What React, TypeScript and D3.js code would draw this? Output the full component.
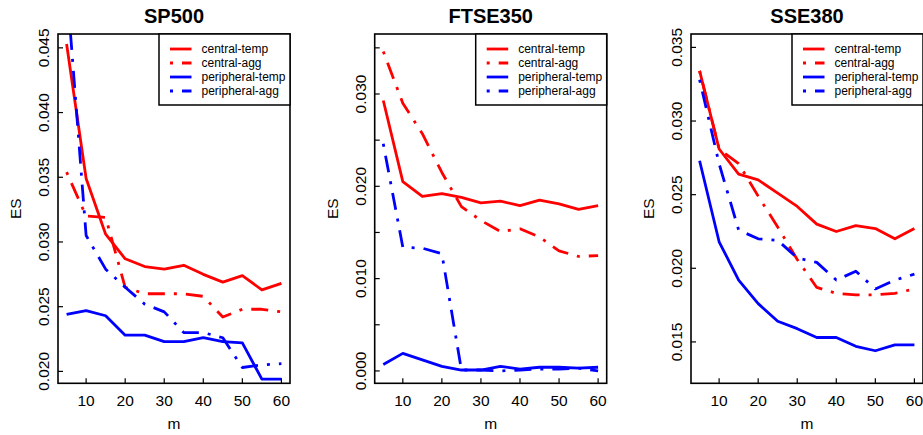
import React from 'react';
import * as d3 from 'd3';

// window length m
const mValues = [5, 10, 15, 20, 25, 30, 35, 40, 45, 50, 55, 60];
const xTicks = [10, 20, 30, 40, 50, 60];

const seriesNames = ['central-temp', 'central-agg', 'peripheral-temp', 'peripheral-agg'];
const seriesColors = ['#ff0000', '#ff0000', '#0000ff', '#0000ff'];
const seriesDash = [null, '3,9,17,9', null, '3,9,17,9'];

// SP500
const spCentralTemp = [0.0453, 0.0349, 0.0306, 0.0287, 0.0281, 0.0279, 0.0282, 0.0275, 0.0269, 0.0274, 0.0263, 0.0268];
const spCentralAgg = [0.0354, 0.0320, 0.0319, 0.0265, 0.0260, 0.0260, 0.0260, 0.0258, 0.0242, 0.0248, 0.0248, 0.0246];
const spPeriphTemp = [0.0244, 0.0247, 0.0243, 0.0228, 0.0228, 0.0223, 0.0223, 0.0226, 0.0223, 0.0222, 0.0194, 0.0194];
const spPeriphAgg = [0.0500, 0.0305, 0.0279, 0.0265, 0.0252, 0.0246, 0.0230, 0.0230, 0.0226, 0.0203, 0.0205, 0.0206];

// FTSE350
const ftCentralTemp = [0.0293, 0.0205, 0.0189, 0.0192, 0.0188, 0.0182, 0.0184, 0.0179, 0.0185, 0.0181, 0.0175, 0.0179];
const ftCentralAgg = [0.0346, 0.0290, 0.0257, 0.0215, 0.0178, 0.0163, 0.0151, 0.0154, 0.0145, 0.0130, 0.0124, 0.0125];
const ftPeriphTemp = [0.0007, 0.0019, 0.0012, 0.0005, 0.0001, 0.0001, 0.0005, 0.0002, 0.0004, 0.0004, 0.0003, 0.0004];
const ftPeriphAgg = [0.0246, 0.0134, 0.0133, 0.0127, 0.0001, 0.0001, 0.0000, 0.0001, 0.0002, 0.0002, 0.0003, 0.0000];

// SSE380
const ssCentralTemp = [0.0334, 0.0281, 0.0264, 0.0260, 0.0251, 0.0242, 0.0230, 0.0225, 0.0229, 0.0227, 0.0220, 0.0227];
const ssCentralAgg = [0.0334, 0.0281, 0.0271, 0.0249, 0.0228, 0.0206, 0.0187, 0.0183, 0.0182, 0.0182, 0.0183, 0.0186];
const ssPeriphTemp = [0.0273, 0.0218, 0.0192, 0.0176, 0.0164, 0.0159, 0.0153, 0.0153, 0.0147, 0.0144, 0.0148, 0.0148];
const ssPeriphAgg = [0.0328, 0.0271, 0.0226, 0.0220, 0.0219, 0.0207, 0.0204, 0.0192, 0.0198, 0.0186, 0.0192, 0.0196];

const panels = [
  {
    title: 'SP500',
    yDomain: [0.01908, 0.04607],
    yTicks: [0.020, 0.025, 0.030, 0.035, 0.040, 0.045],
    yLabels: [0.020, 0.025, 0.030, 0.035, 0.040, 0.045],
    series: [spCentralTemp, spCentralAgg, spPeriphTemp, spPeriphAgg],
  },
  {
    title: 'FTSE350',
    yDomain: [-0.00134, 0.0365],
    yTicks: [0.000, 0.005, 0.010, 0.015, 0.020, 0.025, 0.030, 0.035],
    yLabels: [0.000, 0.010, 0.020, 0.030],
    series: [ftCentralTemp, ftCentralAgg, ftPeriphTemp, ftPeriphAgg],
  },
  {
    title: 'SSE380',
    yDomain: [0.01219, 0.03591],
    yTicks: [0.015, 0.020, 0.025, 0.030, 0.035],
    yLabels: [0.015, 0.020, 0.025, 0.030, 0.035],
    series: [ssCentralTemp, ssCentralAgg, ssPeriphTemp, ssPeriphAgg],
  },
];

const W = 923;
const H = 435;
const FONT = '"Liberation Sans", Arial, Helvetica, sans-serif';
const TOP = 34;
const BOTTOM = 383.3;
const PANEL_W = 232;
const LEFTS = [58, 374.7, 691];
const AXIS_FS = 15.5;

function Panel({ panel, left, idx }) {
  const right = left + PANEL_W;
  const x = d3.scaleLinear().domain([2.8, 62.2]).range([left, right]);
  const y = d3.scaleLinear().domain(panel.yDomain).range([BOTTOM, TOP]);
  const line = d3.line<number>().x((_, i) => x(mValues[i])).y((v) => y(v));
  const clipId = `clip-${idx}`;
  const cx = (left + right) / 2;
  const legLeft = right - 131;

  return (
    <g>
      <defs>
        <clipPath id={clipId}>
          <rect x={left} y={TOP} width={PANEL_W} height={BOTTOM - TOP} />
        </clipPath>
      </defs>
      <text x={cx} y={22.7} textAnchor="middle" fontSize={20} fontWeight="bold" fontFamily={FONT}>
        {panel.title}
      </text>

      <g clipPath={`url(#${clipId})`}>
        {panel.series.map((vals, i) => (
          <path
            key={seriesNames[i]}
            d={line(vals) ?? ''}
            fill="none"
            stroke={seriesColors[i]}
            strokeWidth={2.8}
            strokeDasharray={seriesDash[i] ?? undefined}
            strokeLinejoin="round"
          />
        ))}
      </g>

      {/* x axis: inward ticks */}
      {xTicks.map((t) => (
        <g key={`x${t}`}>
          <line x1={x(t)} x2={x(t)} y1={BOTTOM} y2={BOTTOM - 5} stroke="#000" strokeWidth={1.2} />
          <text x={x(t)} y={405.5} textAnchor="middle" fontSize={AXIS_FS} fontFamily={FONT}>
            {t}
          </text>
        </g>
      ))}
      <text x={cx} y={428.5} textAnchor="middle" fontSize={AXIS_FS} fontFamily={FONT}>m</text>

      {/* y axis */}
      {panel.yTicks.map((t) => (
        <line key={`y${t}`} x1={left} x2={left + 5} y1={y(t)} y2={y(t)} stroke="#000" strokeWidth={1.2} />
      ))}
      {panel.yLabels.map((t) => (
        <text
          key={`yl${t}`}
          transform={`translate(${left - 9},${y(t)}) rotate(-90)`}
          textAnchor="middle"
          fontSize={AXIS_FS}
          fontFamily={FONT}
        >
          {d3.format('.3f')(t)}
        </text>
      ))}
      <text
        transform={`translate(${left - 37},${(TOP + BOTTOM) / 2}) rotate(-90)`}
        textAnchor="middle"
        fontSize={AXIS_FS}
        fontFamily={FONT}
      >
        ES
      </text>

      <rect x={left} y={TOP} width={PANEL_W} height={BOTTOM - TOP} fill="none" stroke="#000" strokeWidth={1.6} />

      {/* legend */}
      <rect x={legLeft} y={TOP} width={131} height={71} fill="#fff" stroke="#000" strokeWidth={1.5} />
      {seriesNames.map((name, i) => {
        const ry = 49 + i * 14;
        return (
          <g key={name}>
            <line
              x1={legLeft + 11}
              x2={legLeft + 32.5}
              y1={ry}
              y2={ry}
              stroke={seriesColors[i]}
              strokeWidth={2.8}
              strokeDasharray={seriesDash[i] ?? undefined}
            />
            <text x={legLeft + 42.5} y={ry} dy="0.35em" fontSize={12} fontFamily={FONT}>
              {name}
            </text>
          </g>
        );
      })}
    </g>
  );
}

export default function App() {
  return (
    <svg
      width={W}
      height={H}
      viewBox={`0 0 ${W} ${H}`}
      style={{ position: 'absolute', left: 0, top: 0, background: '#fff' }}
    >
      <rect width={W} height={H} fill="#fff" />
      {panels.map((p, i) => (
        <Panel key={p.title} panel={p} left={LEFTS[i]} idx={i} />
      ))}
    </svg>
  );
}
